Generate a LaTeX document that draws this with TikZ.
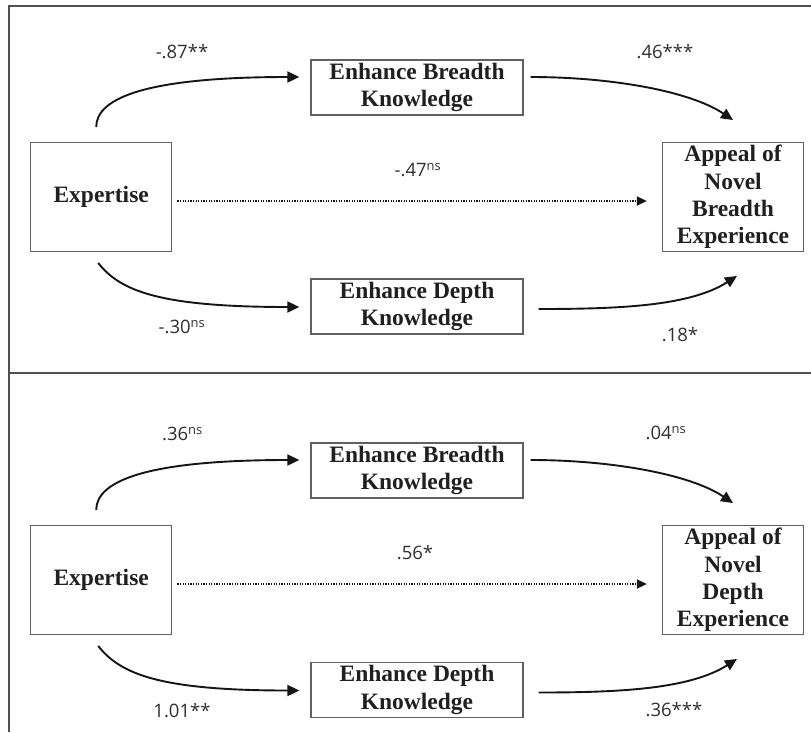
\documentclass[tikz,border=0pt]{standalone}
\usepackage{fontspec}
\setmainfont{Liberation Serif}
\newfontfamily\labfont{Open Sans}
\usetikzlibrary{arrows.meta,calc}
\definecolor{framec}{HTML}{505050}
\definecolor{boxc}{HTML}{606060}
\definecolor{txtc}{HTML}{202020}
\definecolor{labc}{HTML}{303030}
\definecolor{arrc}{HTML}{151515}
\tikzset{
  var/.style={draw=boxc, line width=1.3pt, align=center, inner sep=0pt,
    font=\fontsize{23.5}{27.3}\selectfont\bfseries, text=txtc},
  sidebox/.style={var, minimum width=141pt, minimum height=108.6pt},
  medbox/.style={var, minimum width=212pt, minimum height=55pt},
  path/.style={draw=arrc, line width=1.9pt, -{Triangle[length=12pt,width=11pt]}},
  direct/.style={draw=arrc, line width=1.6pt, dash pattern=on 1.3pt off 1.3pt,
    -{Triangle[length=10pt,width=9pt]}},
  coef/.style={font=\labfont\fontsize{18.5}{22}\selectfont, text=labc, inner sep=0pt}
}
\begin{document}
\begin{tikzpicture}[x=1pt,y=-1pt]
\useasboundingbox (0,0) rectangle (811,732);
% frame
\draw[framec, line width=2pt] (9,732) -- (9,6) -- (811,6);
\draw[framec, line width=2pt] (9,373) -- (811,373);

% ---------- top panel ----------
\node[sidebox] (exp1) at (101.2,197) {Expertise};
\node[medbox] (br1) at (417,87.5) {Enhance Breadth\\Knowledge};
\node[medbox] (de1) at (417,306.5) {Enhance Depth\\Knowledge};
\node[sidebox] (ap1) at (733,197) {Appeal of\\Novel\\Breadth\\Experience};

\coordinate (a1s) at ($(exp1.north)+(-5,-15)$);
\coordinate (a1e) at ($(br1.west)+(-11,-10.5)$);
\draw[path] (a1s) .. controls ($(a1s)+(0,-30)$) and ($(a1e)+(-150,0)$) .. (a1e);

\coordinate (b1s) at ($(exp1.south)+(-3,11)$);
\coordinate (b1e) at ($(de1.west)+(-11,0.5)$);
\draw[path] (b1s) .. controls ($(b1s)+(22,28)$) and ($(b1e)+(-140,0)$) .. (b1e);

\coordinate (c1s) at ($(br1.east)+(7,-10.5)$);
\coordinate (c1e) at ($(ap1.north)+(0,-22)$);
\draw[path] (c1s) .. controls ($(c1s)+(80,0)$) and ($(c1e)+(-43,-29)$) .. (c1e);

\coordinate (d1s) at ($(de1.east)+(15,2.5)$);
\coordinate (d1e) at ($(ap1.south)+(4,24)$);
\draw[path] (d1s) .. controls ($(d1s)+(82,0)$) and ($(d1e)+(-47,30)$) .. (d1e);

\draw[direct] ($(exp1.east)+(5,4)$) -- ($(ap1.west)+(-15,4)$);

\node[coef] (l1a) at (182,52) {-.87**};
\node[coef] (l1b) at (665,52) {.46***};
\node[coef] (l1c) at (418,170) {-.47\textsuperscript{ns}};
\node[coef] (l1d) at (182,327) {-.30\textsuperscript{ns}};
\node[coef] (l1e) at (680,335) {.18*};

% ---------- bottom panel ----------
\node[sidebox] (exp2) at (101.2,580) {Expertise};
\node[medbox] (br2) at (417,470.5) {Enhance Breadth\\Knowledge};
\node[medbox] (de2) at (417,690) {Enhance Depth\\Knowledge};
\node[sidebox] (ap2) at (733,580) {Appeal of\\Novel\\Depth\\Experience};

\coordinate (a2s) at ($(exp2.north)+(-5,-15)$);
\coordinate (a2e) at ($(br2.west)+(-11,-10.5)$);
\draw[path] (a2s) .. controls ($(a2s)+(0,-30)$) and ($(a2e)+(-150,0)$) .. (a2e);

\coordinate (b2s) at ($(exp2.south)+(-3,11)$);
\coordinate (b2e) at ($(de2.west)+(-11,0.5)$);
\draw[path] (b2s) .. controls ($(b2s)+(22,28)$) and ($(b2e)+(-140,0)$) .. (b2e);

\coordinate (c2s) at ($(br2.east)+(7,-10.5)$);
\coordinate (c2e) at ($(ap2.north)+(0,-22)$);
\draw[path] (c2s) .. controls ($(c2s)+(80,0)$) and ($(c2e)+(-43,-29)$) .. (c2e);

\coordinate (d2s) at ($(de2.east)+(15,2.5)$);
\coordinate (d2e) at ($(ap2.south)+(4,24)$);
\draw[path] (d2s) .. controls ($(d2s)+(82,0)$) and ($(d2e)+(-47,30)$) .. (d2e);

\draw[direct] ($(exp2.east)+(5,4)$) -- ($(ap2.west)+(-15,4)$);

\node[coef] (l2a) at (182.5,434) {.36\textsuperscript{ns}};
\node[coef] (l2b) at (666,433) {.04\textsuperscript{ns}};
\node[coef] (l2c) at (415,553) {.56*};
\node[coef] (l2d) at (182,711) {1.01**};
\node[coef] (l2e) at (674,710) {.36***};
\end{tikzpicture}
\end{document}
